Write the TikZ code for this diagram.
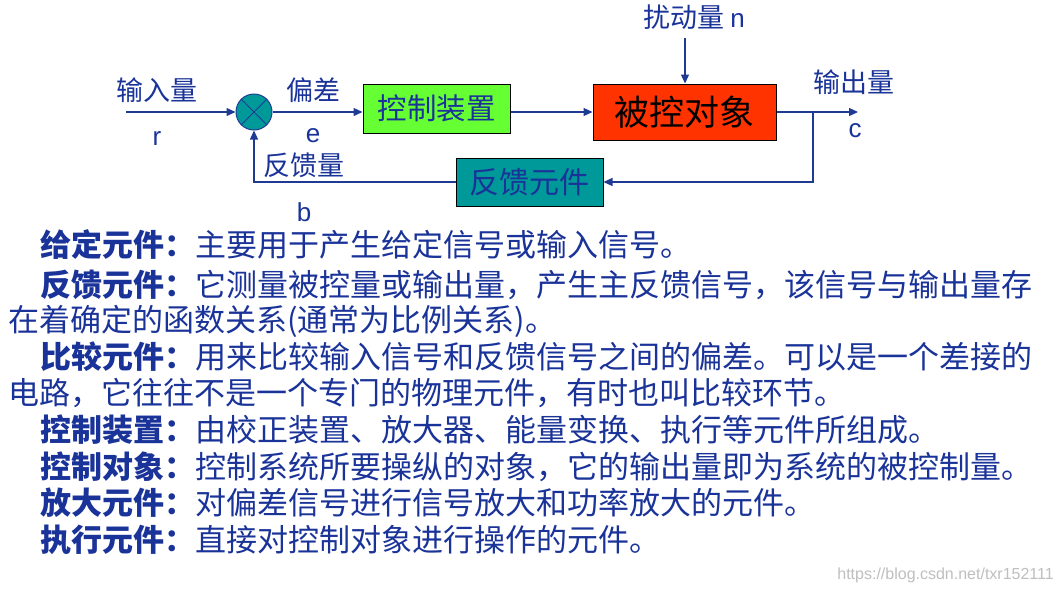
\documentclass[tikz,border=0pt]{standalone}
\usepackage{fontspec}
\setmainfont{Liberation Sans}
\newfontfamily\cjk{Noto Sans CJK SC}
\usepackage{xcolor}
\usepackage{tikz}
\usetikzlibrary{arrows.meta, positioning, calc}
\definecolor{textblue}{RGB}{26, 51, 153}
\definecolor{lineblue}{RGB}{31, 58, 147}
\definecolor{boxgreen}{RGB}{102, 255, 51}
\definecolor{boxred}{RGB}{255, 51, 0}
\definecolor{boxteal}{RGB}{0, 153, 153}
\tikzstyle{block} = [draw=black, line width=1pt, inner sep=0pt, font=\cjk]
\tikzstyle{lbl} = [inner sep=0pt, text=textblue, font=\cjk\fontsize{27}{30}\selectfont]
\tikzstyle{sym} = [inner sep=0pt, text=textblue, font=\fontsize{26}{28}\selectfont]
\tikzstyle{para} = [anchor=west, inner sep=0pt, text=textblue, font=\cjk\fontsize{31}{36}\selectfont]
\tikzstyle{arrow} = [-{Triangle[length=9pt, width=8pt]}, lineblue, line width=1.3pt]

\begin{document}
\begin{tikzpicture}[x=1pt, y=-1pt]
    \useasboundingbox[fill=white] (0,0) rectangle (1059,592);

    % Blocks
    \node[circle, draw=lineblue, fill=boxteal, line width=1pt, minimum size=36pt, inner sep=0pt] (sum) at (254,112) {};
    \draw[lineblue, line width=1pt] (sum.north west) -- (sum.south east);
    \draw[lineblue, line width=1pt] (sum.north east) -- (sum.south west);
    \node[block, fill=boxgreen, minimum width=147pt, minimum height=49pt, text=textblue, font=\cjk\fontsize{29.5}{32}\selectfont] (ctrl) at (436.5,108.5) {控制装置};
    \node[block, fill=boxred, minimum width=183pt, minimum height=56pt, text=black, font=\cjk\fontsize{35}{38}\selectfont] (plant) at (684.5,112) {被控对象};
    \node[block, fill=boxteal, minimum width=147pt, minimum height=48pt, text=textblue, font=\cjk\fontsize{30}{32}\selectfont] (fb) at (529.5,182) {反馈元件};

    % Signals
    \coordinate (in) at (126,112);
    \coordinate (dist) at (685,38);
    \coordinate (branch) at (813,112);
    \coordinate (out) at (858,112);
    \draw[arrow] (in) -- (sum.west);
    \draw[arrow] (sum.east) -- (sum.east -| ctrl.west);
    \draw[arrow] (sum.east -| ctrl.east) -- (plant.west);
    \draw[arrow] (dist) -- (dist |- plant.north);
    \draw[arrow] (plant.east) -- (out);
    \draw[arrow] (branch) |- (fb.east);
    \draw[arrow] (fb.west) -| (sum.south);

    % Labels
    \node[lbl] (inlbl) at (157,90) {输入量};
    \node[sym] (r) at (157,139) {r};
    \node[lbl] (errlbl) at (313,90) {偏差};
    \node[sym] (e) at (313,136) {e};
    \node[lbl] (fblbl) at (304,165) {反馈量};
    \node[sym] (b) at (304,212) {b};
    \node[lbl] (distlbl) at (694,17) {扰动量 {\normalfont\fontsize{26}{28}\selectfont n}};
    \node[lbl] (outlbl) at (854,82) {输出量};
    \node[sym] (c) at (855,131) {c};

    % Text
    \node[para] (t1) at (40,245) {\textbf{给定元件：}主要用于产生给定信号或输入信号。};
    \node[para] (t2) at (40,285) {\textbf{反馈元件：}它测量被控量或输出量，产生主反馈信号，该信号与输出量存};
    \node[para] (t3) at (8,321) {在着确定的函数关系(通常为比例关系)。};
    \node[para] (t4) at (40,357) {\textbf{比较元件：}用来比较输入信号和反馈信号之间的偏差。可以是一个差接的};
    \node[para] (t5) at (8,393) {电路，它往往不是一个专门的物理元件，有时也叫比较环节。};
    \node[para] (t6) at (40,430) {\textbf{控制装置：}由校正装置、放大器、能量变换、执行等元件所组成。};
    \node[para] (t7) at (40,467) {\textbf{控制对象：}控制系统所要操纵的对象，它的输出量即为系统的被控制量。};
    \node[para] (t8) at (40,503) {\textbf{放大元件：}对偏差信号进行信号放大和功率放大的元件。};
    \node[para] (t9) at (40,540) {\textbf{执行元件：}直接对控制对象进行操作的元件。};

    \node[anchor=east, inner sep=0pt, text=black!25, font=\fontsize{16}{18}\selectfont] (mark) at (1054,575) {https://blog.csdn.net/txr152111};
\end{tikzpicture}
\end{document}
